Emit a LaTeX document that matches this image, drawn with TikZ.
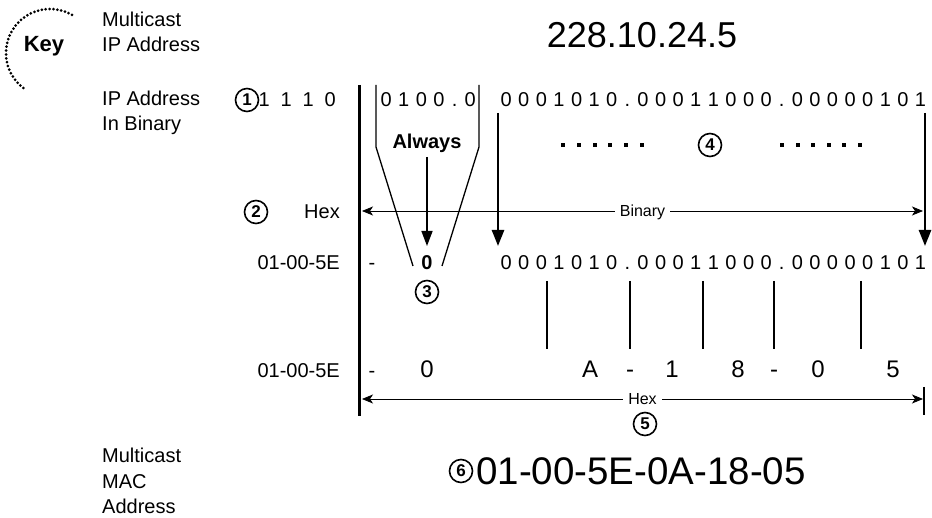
\documentclass[tikz,border=0pt]{standalone}
\usepackage{fontspec}
\setmainfont{Liberation Sans}
\usetikzlibrary{arrows.meta}
\makeatletter
\newcommand\bitstr[3]{\@tfor\bs@c:=#3\do{\if.\bs@c\makebox[#2]{.}\else\makebox[#1]{\bs@c}\fi}}
\makeatother
\newcommand\fsz[1]{\fontsize{#1}{#1}\selectfont}
\begin{document}
\begin{tikzpicture}[x=1pt,y=-1pt,
  txt/.style={inner sep=0pt, font=\fsz{20}},
  bits/.style={inner sep=0pt, font=\fsz{20}},
  bigch/.style={inner sep=0pt, font=\fsz{24}, anchor=base},
  circnum/.style={circle, draw, line width=1.6pt, inner sep=0pt, minimum size=23pt, font=\bfseries\fsz{17}},
  dimarrow/.style={line width=0.8pt, {Stealth[length=11pt,width=9pt,inset=3pt]}-{Stealth[length=11pt,width=9pt,inset=3pt]}},
  dimlbl/.style={fill=white, inner xsep=5pt, inner ysep=2pt, text height=11.5pt, text depth=0pt, font=\fsz{16}},
  bigarrow/.style={line width=2.5pt, -{Triangle[length=16pt,width=12pt]}},
  funnel/.style={line width=1.3pt, line join=miter},
  nibble/.style={line width=1.2pt}
]
\useasboundingbox (0,0) rectangle (932,518);
% key
\node[inner sep=0pt, font=\bfseries\fsz{22}, anchor=base] (key) at (44,52) {Key};
\draw[line width=3pt, line cap=round, dash pattern=on 0pt off 3.9pt] (72,14.9) arc[start angle=300,end angle=126,radius=44];
% left labels
\node[txt, anchor=base west] (mc1) at (102,27) {Multicast};
\node[txt, anchor=base west] (mc2) at (102,52) {IP Address};
\node[txt, anchor=base west] (ipb1) at (102,106) {IP Address};
\node[txt, anchor=base west] (ipb2) at (102,131) {In Binary};
\node[txt, anchor=base west] (mac1) at (102,462.5) {Multicast};
\node[txt, anchor=base west] (mac2) at (102,488) {MAC};
\node[txt, anchor=base west] (mac3) at (102,513.5) {Address};
% title
\node[inner sep=0pt, font=\fsz{36}, anchor=base] (title) at (642,48) {228.10.24.5};
% row 1
\node[circnum] (c1) at (247,100) {1};
\node[bits, anchor=base west] (b1110) at (253,107) {\bitstr{22pt}{0pt}{1110}};
\node[bits, anchor=base west] (b0100) at (377.2,107) {\bitstr{17.6pt}{13.6pt}{0100.0}};
\node[bits, anchor=base west] (bip) at (497.2,107) {\bitstr{17.6pt}{13.6pt}{0001010.00011000.00000101}};
% funnel
\draw[funnel] (376,85) -- (376,147) -- (413,266);
\draw[funnel] (479,85) -- (479,147) -- (442,266);
\node[inner sep=0pt, font=\bfseries\fsz{20}, anchor=base] (always) at (427,149) {Always};
\coordinate (aTop) at (427,157);
\coordinate (aTip) at (427,246);
\draw[line width=1.5pt, -{Triangle[length=15pt,width=11pt]}] (aTop) -- (aTip);
% dots and 4
\foreach \i in {0,...,5} {
  \fill (561+15.8*\i,143) rectangle ++(4,4);
  \fill (780+15.6*\i,143) rectangle ++(4,4);
}
\node[circnum] (c4) at (710,145) {4};
% big arrows
\coordinate (lTop) at (498,113);
\coordinate (lTip) at (498,246);
\coordinate (rTop) at (925,113);
\coordinate (rTip) at (925,246);
\draw[bigarrow] (lTop) -- (lTip);
\draw[bigarrow] (rTop) -- (rTip);
% row 2
\node[circnum] (c2) at (256,212) {2};
\node[txt, anchor=base east] (hexlbl) at (340,219) {Hex};
\coordinate (binL) at (362,211);
\coordinate (binR) at (923,211);
\draw[dimarrow] (binL) -- (binR);
\node[dimlbl] (binlbl) at (642.5,211) {Binary};
% thick vertical line
\coordinate (vTop) at (359,85);
\coordinate (vBot) at (359,416);
\draw[line width=3pt] (vTop) -- (vBot);
% row 3
\node[txt, anchor=base east] (r3lbl) at (340,270) {01-00-5E};
\node[txt, anchor=base] (r3dash) at (372,270) {-};
\node[inner sep=0pt, font=\bfseries\fsz{20}, anchor=base] (zero) at (427,270) {0};
\node[bits, anchor=base west] (bmac) at (497.2,270) {\bitstr{17.6pt}{13.6pt}{0001010.00011000.00000101}};
\node[circnum] (c3) at (427,292) {3};
% nibble lines
\foreach \x in {547,630,703,774,861} \draw[nibble] (\x,281) -- (\x,349);
% row 4
\node[txt, anchor=base east] (r4lbl) at (340,378) {01-00-5E};
\node[txt, anchor=base] (r4dash) at (372,378) {-};
\node[bigch] (h0) at (427,378) {0};
\node[bigch] (hA) at (590,378) {A};
\node[bigch] (hd1) at (630,378) {-};
\node[bigch] (h1) at (672,378) {1};
\node[bigch] (h8) at (738,378) {8};
\node[bigch] (hd2) at (774,378) {-};
\node[bigch] (h0b) at (818,378) {0};
\node[bigch] (h5) at (893,378) {5};
% hex arrow
\coordinate (hexL) at (362,399);
\coordinate (hexR) at (923,399);
\draw[dimarrow] (hexL) -- (hexR);
\node[dimlbl] (hexmid) at (642.5,399) {Hex};
\coordinate (tTop) at (924,387);
\coordinate (tBot) at (924,415);
\draw[nibble] (tTop) -- (tBot);
\node[circnum] (c5) at (645,424) {5};
% MAC
\node[circnum] (c6) at (461,471) {6};
\node[inner sep=0pt, font=\fsz{38.5}, anchor=base west] (mac) at (476,485) {01-00-5E-0A-18-05};
\end{tikzpicture}
\end{document}
